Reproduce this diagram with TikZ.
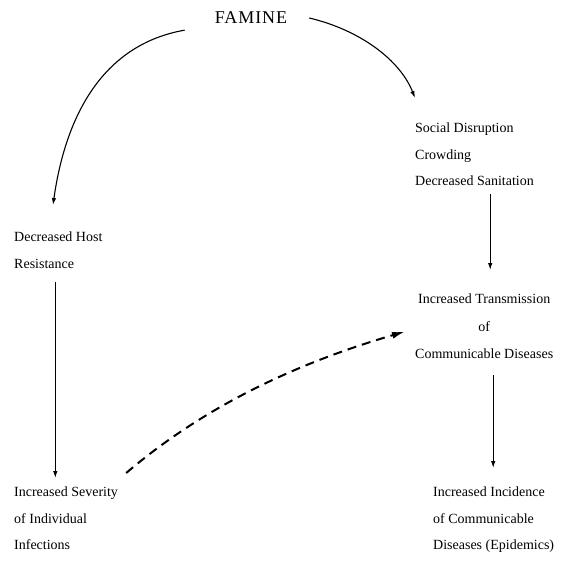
\documentclass[tikz,border=0pt]{standalone}
\usepackage{fontspec}
\setmainfont{Liberation Serif}
\usepackage{tikz}
\usetikzlibrary{positioning, arrows.meta, calc}
\tikzset{
  factor/.style  = {inner sep=0pt, align=left, font=\fontsize{14}{26.5}\selectfont},
  cfactor/.style = {inner sep=0pt, align=center, font=\fontsize{14}{27.5}\selectfont},
  title/.style   = {inner sep=0pt, font=\fontsize{18}{20}\selectfont\addfontfeatures{LetterSpace=5}},
  arr/.style     = {-{Latex[length=7pt,width=4.5pt]}, line width=1.1pt, draw=black},
  darr/.style    = {-{Latex[length=13pt,width=7pt]}, line width=2pt, draw=black,
                    dash pattern=on 9pt off 6pt},
}
\begin{document}
\begin{tikzpicture}[x=1pt, y=-1pt]
  \useasboundingbox (0,0) rectangle (570,564);

  % Top: the cause
  \node[title] (famine) at (251,18) {FAMINE};

  % Right column
  \node[factor, anchor=north west] (social) at (415,123)
       {Social Disruption\\Crowding\\Decreased Sanitation};
  \node[cfactor, anchor=north west] (trans) at (415,294)
       {Increased Transmission\\of\\Communicable Diseases};
  \node[factor, anchor=north west] (incid) at (433,487)
       {Increased Incidence\\of Communicable\\Diseases (Epidemics)};

  % Left column
  \node[factor, anchor=north west] (host) at (14,232)
       {Decreased Host\\Resistance};
  \node[factor, anchor=north west] (sev) at (14,487)
       {Increased Severity\\of Individual\\Infections};

  % Arrows
  \draw[arr] ([xshift=-30pt,yshift=-6pt]famine.south west)
             .. controls (100,45) and (65,120) .. ([xshift=39pt,yshift=27pt]host.north west);
  \draw[arr] ([xshift=22pt]famine.east)
             .. controls (360,30) and (400,60) .. ([yshift=25pt]social.north west);
  \draw[arr, shorten <=8pt, shorten >=24pt] ([xshift=6pt]social.south -| trans.north) -- ([xshift=6pt]trans.north);
  \draw[arr, shorten <=13pt, shorten >=9pt] ([xshift=-3pt]host.south) -- ([xshift=-3pt]host.south |- sev.north);
  \draw[arr, shorten <=16pt, shorten >=19pt] ([xshift=9pt]trans.south) -- ([xshift=9pt]trans.south |- incid.north);
  \draw[darr] ([xshift=8pt,yshift=14pt]sev.north east)
              .. controls (200,410) and (290,365) .. ([xshift=-10pt,yshift=-5pt]trans.west);

\end{tikzpicture}
\end{document}
